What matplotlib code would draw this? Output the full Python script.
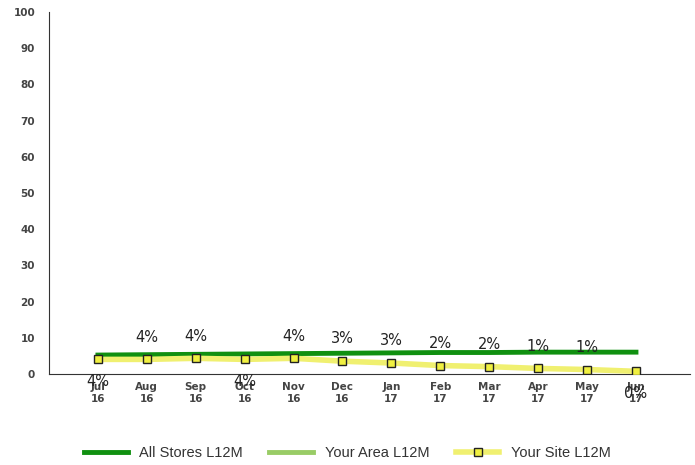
import matplotlib
matplotlib.use("Agg")
import matplotlib.pyplot as plt
import numpy as np

months = ["Jul\n16", "Aug\n16", "Sep\n16", "Oct\n16", "Nov\n16", "Dec\n16",
          "Jan\n17", "Feb\n17", "Mar\n17", "Apr\n17", "May\n17", "Jun\n17"]
all_stores = [5.2, 5.3, 5.4, 5.5, 5.6, 5.7, 5.8, 5.9, 5.9, 6.0, 6.0, 6.0]
your_area = [np.nan] * 12
your_site = [4.0, 4.0, 4.3, 4.0, 4.3, 3.5, 3.0, 2.3, 2.0, 1.5, 1.2, 0.7]
site_labels = ["4%", "4%", "4%", "4%", "4%", "3%", "3%", "2%", "2%", "1%", "1%", "0%"]
label_below = [True, False, False, True, False, False, False, False, False, False, False, True]

fig = plt.figure(figsize=(6.95, 4.65), dpi=100)
ax = fig.add_axes([0.0705, 0.196, 0.922, 0.778])
x = np.arange(len(months))

ax.plot(x, all_stores, color="#109010", lw=3.5, label="All Stores L12M", zorder=3)
ax.plot(x, your_area, color="#99cc66", lw=3.5, label="Your Area L12M", zorder=2)
ax.plot(x, your_site, color="#f0f070", lw=4, marker="s", ms=6,
        mfc="#f0f040", mec="#222222", mew=1, label="Your Site L12M", zorder=4)

for i, (v, t) in enumerate(zip(your_site, site_labels)):
    dy = -16 if label_below[i] else 16
    ax.annotate(t, (i, v), xytext=(0, dy), textcoords="offset points",
                ha="center", va="center", fontsize=10.5, color="#222222")

ax.set_xlim(-1, 12.1)
ax.set_ylim(0, 100)
ax.set_yticks(range(0, 101, 10))
ax.set_xticks(x)
ax.set_xticklabels(months, fontsize=7.5, color="#444444", fontweight="bold")
ax.tick_params(axis="y", labelsize=7.5, labelcolor="#444444", length=0, pad=10)
ax.tick_params(axis="x", length=0, pad=6)
for lab in ax.get_yticklabels():
    lab.set_fontweight("bold")
for s in ["top", "right"]:
    ax.spines[s].set_visible(False)
ax.spines["left"].set_color("#333333")
ax.spines["bottom"].set_color("#333333")

fig.legend(loc="lower center", bbox_to_anchor=(0.5, -0.018), ncol=3, frameon=False,
           prop={"family": "Liberation Sans", "size": 10.5},
           handlelength=3, columnspacing=1.8, labelcolor="#333333")

fig.savefig("out.png", dpi=100)
